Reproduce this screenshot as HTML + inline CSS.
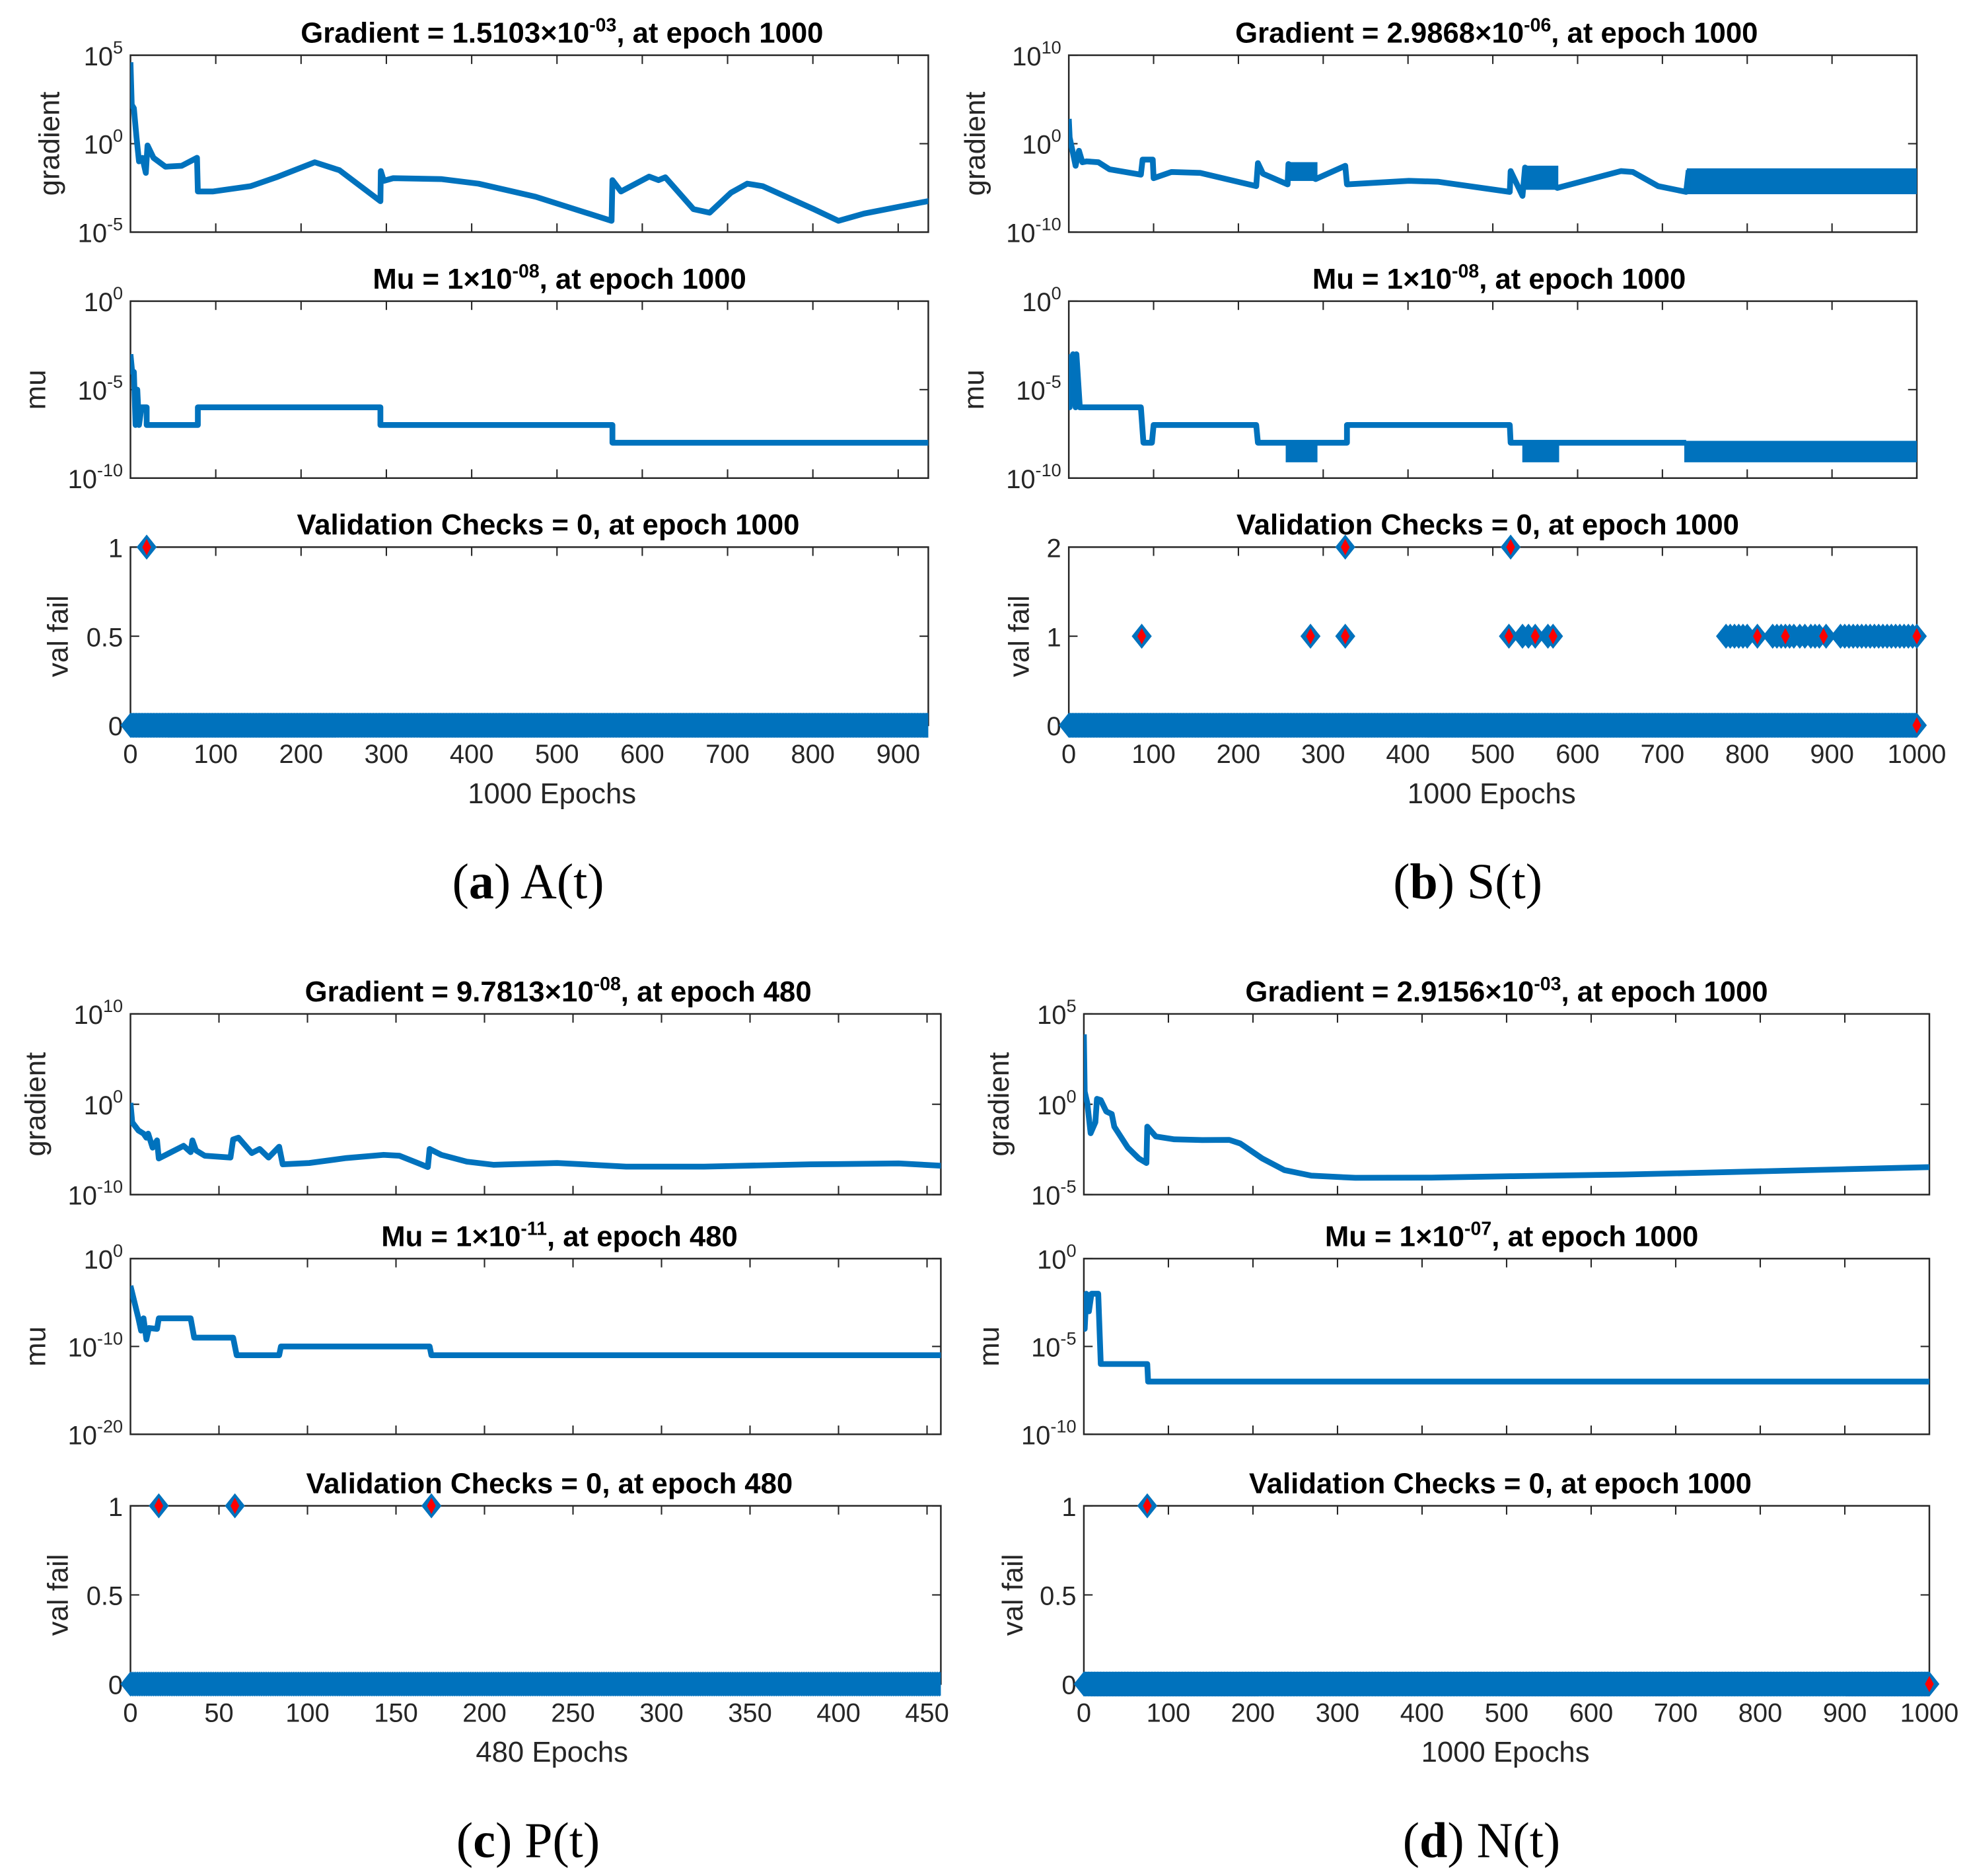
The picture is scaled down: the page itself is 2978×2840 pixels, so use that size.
<!DOCTYPE html>
<html>
<head>
<meta charset="utf-8">
<style>
html,body{margin:0;padding:0;background:#fff;}
svg{display:block;}
</style>
</head>
<body>
<svg id="fig" xmlns="http://www.w3.org/2000/svg" width="2978" height="2840" viewBox="0 0 1568 1495" preserveAspectRatio="none">
<rect x="0" y="0" width="1568" height="1495" fill="#fff"/>
</svg>
<script>
// ===== Data (epoch arrays + log10 value arrays) =====
const aGradEpochs = [0,1.5,4,7,10,14,18,20,27,41,60,78,79,97,141,171,216,245,293,293.5,297,308,364,408,475,564,565,575,608,619,627,660,679,704,723,741,801,830,860,940];
const aGradLog    = [4.6,2.2,2.0,0.4,-1.0,-0.8,-1.65,-0.1,-0.8,-1.3,-1.25,-0.8,-2.7,-2.7,-2.4,-1.9,-1.05,-1.5,-3.25,-1.55,-2.1,-1.95,-2.0,-2.26,-3.0,-4.36,-2.06,-2.7,-1.86,-2.06,-1.9,-3.7,-3.9,-2.77,-2.26,-2.4,-3.7,-4.36,-3.95,-3.2];
const aMuEpochs = [0,2,4,6,8,10,13,19,19,79,79,293,293,565,565,1000];
const aMuLog    = [-3,-4,-4,-7,-5,-7,-6,-6,-7,-7,-6,-6,-7,-7,-8,-8];
const aValOneEpochs = [19];
const aValTwoEpochs = [];
const aRedEpochs = [19];
const aTotalEpochs = 1000;

const bGradEpochs = [0,1,5,8,12,16,21,35,48,85,87,99,100,121,155,221,223,229,258,259,291,326,328,401,435,520,521,535,538,576,651,665,695,728,731];
const bGradLog    = [2.8,0.7,-1.1,-2.5,-0.8,-2.1,-2.0,-2.1,-2.9,-3.5,-1.8,-1.8,-3.9,-3.2,-3.3,-4.8,-2.2,-3.4,-4.6,-2.3,-4.0,-2.5,-4.6,-4.2,-4.3,-5.45,-3.1,-5.9,-2.7,-5.0,-3.1,-3.2,-4.8,-5.45,-3.0];
const bGradBandStart = [259,538,731];
const bGradBandEnd   = [291,575,1000];
const bGradBandHi    = [-2.3,-2.7,-3.0];
const bGradBandLo    = [-4.0,-5.0,-5.5];
const bMuEpochs = [0,1,5,8,9,13,85,88,98,100,221,223,258,291,328,328,520,521,728];
const bMuLog    = [-3,-6,-3,-6,-3,-6,-6,-8,-8,-7,-7,-8,-8,-8,-8,-7,-7,-8,-8];
const bMuBandStart = [258,537,728];
const bMuBandEnd   = [291,576,1000];
const bMuBandHi    = [-8,-8,-8];
const bMuBandLo    = [-9,-9,-9];
const bValOneEpochs = [86,285,326,519,535,542,550,565,571,775,780,785,790,795,800,812,830,835,840,845,850,855,862,868,875,880,885,893,910,915,920,925,930,935,940,945,950,955,960,965,970,975,980,985,990,995,1000];
const bValTwoEpochs = [326,521];
const bRedEpochs = [86,285,326,519,550,571,812,845,890,1000];
const bTotalEpochs = 1000;

const cGradEpochs = [0,1,4.5,7.4,9,10,12.5,15,16,22,30,34,35,37,42,56.5,58,61,68.5,73,78,84,86,101,122,143,152,168,169,175.6,190,205,241,280,324,384,434,458];
const cGradLog    = [0.15,-2.0,-2.9,-3.25,-3.7,-3.25,-4.8,-4.0,-6.0,-5.4,-4.6,-5.3,-4.0,-5.1,-5.7,-5.9,-3.9,-3.7,-5.4,-4.95,-5.9,-4.7,-6.65,-6.5,-5.95,-5.6,-5.7,-6.95,-4.95,-5.6,-6.35,-6.7,-6.5,-6.9,-6.9,-6.65,-6.55,-6.8];
const cMuEpochs = [0,4.5,6,7.4,9,10.4,15,16,34,36,58,60,84,85,169,170,480];
const cMuLog    = [-3.1,-6.8,-8.2,-6.8,-9.2,-7.9,-8.0,-6.8,-6.8,-9.0,-9.0,-11,-11,-10,-10,-11,-11];
const cValOneEpochs = [16,59,170];
const cValTwoEpochs = [];
const cRedEpochs = [16,59,170];
const cTotalEpochs = 480;

const dGradEpochs = [0,1,4,8,13.6,15.5,20,26.5,33,36,52,65,74,75,85,107,140,172,185,211,237,269,321,411,508,638,767,896,1000];
const dGradLog    = [3.87,0.7,0.08,-1.6,-1.0,0.3,0.23,-0.4,-0.54,-1.24,-2.4,-3.0,-3.25,-1.24,-1.78,-1.94,-1.98,-1.97,-2.17,-3.0,-3.64,-3.95,-4.07,-4.06,-3.98,-3.89,-3.75,-3.6,-3.48];
const dMuEpochs = [0,1,3,6,9,17,20,75,76,1000];
const dMuLog    = [-3,-4,-2,-3,-2,-2,-6,-6,-7,-7];
const dValOneEpochs = [75];
const dValTwoEpochs = [];
const dRedEpochs = [75];
const dTotalEpochs = 1000;

const xTicksK = [0,100,200,300,400,500,600,700,800,900,1000];
const xTicksA = [0,100,200,300,400,500,600,700,800,900];
const xTicksC = [0,50,100,150,200,250,300,350,400,450];

// ===== Drawing =====
const NS = 'http://www.w3.org/2000/svg';
const svg = document.getElementById('fig');
const BLUE = '#0072BD';
const AX = '#262626';
const FONT = '"Liberation Sans", Arial, sans-serif';
let clipId = 0;

function el(tag, attrs, parent) {
  const e = document.createElementNS(NS, tag);
  for (const k in attrs) e.setAttribute(k, attrs[k]);
  (parent || svg).appendChild(e);
  return e;
}

function supText(parent, x, y, base, exp, anchor, size) {
  const t = el('text', {x: x, y: y, 'text-anchor': anchor, 'font-family': FONT, 'font-size': size, fill: AX}, parent);
  const t1 = document.createElementNS(NS, 'tspan'); t1.textContent = base; t.appendChild(t1);
  const t2 = document.createElementNS(NS, 'tspan'); t2.setAttribute('dy', -size * 0.45); t2.setAttribute('font-size', size * 0.68); t2.textContent = exp; t.appendChild(t2);
  return t;
}

function titleText(parent, cx, y, pre, exp, post) {
  const t = el('text', {x: cx, y: y, 'text-anchor': 'middle', 'font-family': FONT, 'font-size': 23, 'font-weight': 'bold', fill: '#000'}, parent);
  const a = document.createElementNS(NS, 'tspan'); a.textContent = pre; t.appendChild(a);
  if (exp !== null) {
    const b = document.createElementNS(NS, 'tspan'); b.setAttribute('dy', -9); b.setAttribute('font-size', 15); b.textContent = exp; t.appendChild(b);
    const c = document.createElementNS(NS, 'tspan'); c.setAttribute('dy', 9); c.textContent = post; t.appendChild(c);
  }
  return t;
}

function drawBox(g, x0, x1, top, bot, xticks, xscale) {
  const box = el('rect', {x: x0, y: top, width: x1 - x0, height: bot - top, fill: 'none', stroke: AX, 'stroke-width': 1.3}, g);
  
  
  xticks.forEach(v => {
    const x = xscale(v);
    if (x > x0 + 1 && x < x1 - 1) {
      el('line', {x1: x, y1: bot, x2: x, y2: bot - 7, stroke: AX, 'stroke-width': 1.1}, g);
      el('line', {x1: x, y1: top, x2: x, y2: top + 7, stroke: AX, 'stroke-width': 1.1}, g);
    }
  });
}

function ytick(g, x0, x1, y) {
  el('line', {x1: x0, y1: y, x2: x0 + 7, y2: y, stroke: AX, 'stroke-width': 1.1}, g);
  el('line', {x1: x1, y1: y, x2: x1 - 7, y2: y, stroke: AX, 'stroke-width': 1.1}, g);
}

function ylabel(g, x, cy, text, name) {
  const t = el('text', {x: x, y: cy, transform: 'rotate(-90 ' + x + ' ' + cy + ')', 'text-anchor': 'middle', 'font-family': FONT, 'font-size': 23, fill: AX}, g);
  t.textContent = text;
  
  
}

function makeClip(x, y, w, h) {
  const id = 'clip' + (clipId++);
  const cp = el('clipPath', {id: id});
  el('rect', {x: x, y: y, width: w, height: h}, cp);
  return 'url(#' + id + ')';
}

function logPanel(g, P, row, epochs, logs, bands, titleParts, ylab, ylabX, name) {
  const xs = e => P.x0 + (e / P.xmax) * (P.x1 - P.x0);
  const ys = l => row.top + (row.hi - l) / (row.hi - row.lo) * (row.bot - row.top);
  const sub = el('g', {}, g);
  
  
  drawBox(sub, P.x0, P.x1, row.top, row.bot, P.xticks, xs);
  row.ticks.forEach(v => {
    ytick(sub, P.x0, P.x1, ys(v));
    const lbl = supText(sub, P.x0 - 6, ys(v) + 8, '10', String(v), 'end', 21);
    
    
  });
  const ttl = titleText(sub, titleParts[0], row.top - 10, titleParts[1], titleParts[2], titleParts[3]);
  
  
  ylabel(sub, ylabX, (row.top + row.bot) / 2, ylab, name + '-y-label');
  const clip = makeClip(P.x0, row.top - 3, P.x1 - P.x0, row.bot - row.top + 6);
  const lg = el('g', {'clip-path': clip}, sub);
  let d = '';
  epochs.forEach((e, i) => { d += (i ? 'L' : 'M') + xs(e).toFixed(2) + ' ' + ys(logs[i]).toFixed(2); });
  const path = el('path', {d: d, fill: 'none', stroke: BLUE, 'stroke-width': 4.6, 'stroke-linejoin': 'round'}, lg);
  
  
  if (bands) {
    bands.start.forEach((s, i) => {
      const r = el('rect', {x: xs(s), y: ys(bands.hi[i]), width: xs(bands.end[i]) - xs(s), height: ys(bands.lo[i]) - ys(bands.hi[i]), fill: BLUE, stroke: BLUE, 'stroke-width': 3}, lg);
      
      
    });
  }
}

function valPanel(g, P, row, ones, twos, reds, total, ttlParts, ylabX) {
  const xs = e => P.x0 + (e / P.xmax) * (P.x1 - P.x0);
  const ys = v => row.bot - (v / row.max) * (row.bot - row.top);
  const sub = el('g', {}, g);
  
  
  drawBox(sub, P.x0, P.x1, row.top, row.bot, P.xticks, xs);
  row.ticks.forEach(v => {
    ytick(sub, P.x0, P.x1, ys(v));
    const t = el('text', {x: P.x0 - 6, y: ys(v) + 8, 'text-anchor': 'end', 'font-family': FONT, 'font-size': 21, fill: AX}, sub);
    t.textContent = String(v);
    
    
  });
  const ttl = titleText(sub, ttlParts[0], row.top - 10, ttlParts[1], null, null);
  
  
  ylabel(sub, ylabX, (row.top + row.bot) / 2, 'val fail', 'val-fail-y-label');
  P.xticks.forEach(v => {
    const t = el('text', {x: xs(v), y: row.bot + 30, 'text-anchor': 'middle', 'font-family': FONT, 'font-size': 21, fill: AX}, sub);
    t.textContent = String(v);
    
    
  });
  const xl = el('text', {x: P.xlabelX, y: row.bot + 62, 'text-anchor': 'middle', 'font-family': FONT, 'font-size': 23, fill: AX}, sub);
  xl.textContent = total + ' Epochs';
  
  
  const clip = makeClip(P.x0 - 12, row.top - 14, P.x1 - P.x0 + 24 - P.clipRightTrim, row.bot - row.top + 28);
  const mg = el('g', {'clip-path': clip}, sub);
  const hw = 8, hh = 10, rw = 3.5, rh = 6.5;
  const dia = (x, y, w, h) => 'M' + (x - w).toFixed(2) + ' ' + y + 'L' + x.toFixed(2) + ' ' + (y - h) + 'L' + (x + w).toFixed(2) + ' ' + y + 'L' + x.toFixed(2) + ' ' + (y + h) + 'Z';
  let d0 = '';
  for (let e = 0; e <= total; e++) d0 += dia(xs(e), ys(0), hw, hh);
  const zero = el('path', {d: d0, fill: BLUE}, mg);
  
  
  let d1 = '', dr = '';
  ones.forEach(e => { d1 += dia(xs(e), ys(1), hw, hh); });
  twos.forEach(e => { d1 += dia(xs(e), ys(2), hw, hh); dr += dia(xs(e), ys(2), rw, rh); });
  reds.forEach(e => { dr += dia(xs(e), ys(1), rw, rh); });
  dr += dia(xs(total), ys(0), rw, rh);
  const m1 = el('path', {d: d1, fill: BLUE}, mg);
  
  
  const mr = el('path', {d: dr, fill: '#FF0000'}, mg);
  
  
}

function caption(x, y, letter, rest, name) {
  const t = el('text', {x: x, y: y, 'text-anchor': 'middle', 'font-family': '"Liberation Serif", "Times New Roman", serif', 'font-size': 40, fill: '#000'});
  const a = document.createElementNS(NS, 'tspan'); a.textContent = '('; t.appendChild(a);
  const b = document.createElementNS(NS, 'tspan'); b.setAttribute('font-weight', 'bold'); b.textContent = letter; t.appendChild(b);
  const c = document.createElementNS(NS, 'tspan'); c.textContent = ') ' + rest; t.appendChild(c);
  
  
}

// ---- Panel A ----
const gA = el('g', {});


const PA = {x0: 104, x1: 740, xmax: 935.3, xticks: xTicksA, xlabelX: 440, clipRightTrim: 12};
logPanel(gA, PA, {top: 44, bot: 185, hi: 5, lo: -5, ticks: [5, 0, -5]}, aGradEpochs, aGradLog, null, [448, 'Gradient = 1.5103×10', '-03', ', at epoch 1000'], 'gradient', 47, 'gradient-plot');
logPanel(gA, PA, {top: 240, bot: 381, hi: 0, lo: -10, ticks: [0, -5, -10]}, aMuEpochs, aMuLog, null, [446, 'Mu = 1×10', '-08', ', at epoch 1000'], 'mu', 36, 'mu-plot');
valPanel(gA, PA, {top: 436, bot: 578, max: 1, ticks: [1, 0.5, 0]}, aValOneEpochs, aValTwoEpochs, aRedEpochs, aTotalEpochs, [437, 'Validation Checks = 0, at epoch 1000'], 54);
caption(421, 716, 'a', 'A(t)', 'caption-a');

// ---- Panel B ----
const gB = el('g', {});


const PB = {x0: 852, x1: 1528, xmax: 1000, xticks: xTicksK, xlabelX: 1189, clipRightTrim: 0};
logPanel(gB, PB, {top: 44, bot: 185, hi: 10, lo: -10, ticks: [10, 0, -10]}, bGradEpochs, bGradLog, {start: bGradBandStart, end: bGradBandEnd, hi: bGradBandHi, lo: bGradBandLo}, [1193, 'Gradient = 2.9868×10', '-06', ', at epoch 1000'], 'gradient', 785, 'gradient-plot');
logPanel(gB, PB, {top: 240, bot: 381, hi: 0, lo: -10, ticks: [0, -5, -10]}, bMuEpochs, bMuLog, {start: bMuBandStart, end: bMuBandEnd, hi: bMuBandHi, lo: bMuBandLo}, [1195, 'Mu = 1×10', '-08', ', at epoch 1000'], 'mu', 784, 'mu-plot');
valPanel(gB, PB, {top: 436, bot: 578, max: 2, ticks: [2, 1, 0]}, bValOneEpochs, bValTwoEpochs, bRedEpochs, bTotalEpochs, [1186, 'Validation Checks = 0, at epoch 1000'], 820);
caption(1170, 716, 'b', 'S(t)', 'caption-b');

// ---- Panel C ----
const gC = el('g', {});


const PC = {x0: 104, x1: 750, xmax: 457.8, xticks: xTicksC, xlabelX: 440, clipRightTrim: 12};
logPanel(gC, PC, {top: 808, bot: 952, hi: 10, lo: -10, ticks: [10, 0, -10]}, cGradEpochs, cGradLog, null, [445, 'Gradient = 9.7813×10', '-08', ', at epoch 480'], 'gradient', 36, 'gradient-plot');
logPanel(gC, PC, {top: 1003, bot: 1143, hi: 0, lo: -20, ticks: [0, -10, -20]}, cMuEpochs, cMuLog, null, [446, 'Mu = 1×10', '-11', ', at epoch 480'], 'mu', 36, 'mu-plot');
valPanel(gC, PC, {top: 1200, bot: 1342, max: 1, ticks: [1, 0.5, 0]}, cValOneEpochs, cValTwoEpochs, cRedEpochs, cTotalEpochs, [438, 'Validation Checks = 0, at epoch 480'], 54);
caption(421, 1480, 'c', 'P(t)', 'caption-c');

// ---- Panel D ----
const gD = el('g', {});


const PD = {x0: 864, x1: 1538, xmax: 1000, xticks: xTicksK, xlabelX: 1200, clipRightTrim: 0};
logPanel(gD, PD, {top: 808, bot: 952, hi: 5, lo: -5, ticks: [5, 0, -5]}, dGradEpochs, dGradLog, null, [1201, 'Gradient = 2.9156×10', '-03', ', at epoch 1000'], 'gradient', 804, 'gradient-plot');
logPanel(gD, PD, {top: 1003, bot: 1143, hi: 0, lo: -10, ticks: [0, -5, -10]}, dMuEpochs, dMuLog, null, [1205, 'Mu = 1×10', '-07', ', at epoch 1000'], 'mu', 796, 'mu-plot');
valPanel(gD, PD, {top: 1200, bot: 1342, max: 1, ticks: [1, 0.5, 0]}, dValOneEpochs, dValTwoEpochs, dRedEpochs, dTotalEpochs, [1196, 'Validation Checks = 0, at epoch 1000'], 815);
caption(1181, 1480, 'd', 'N(t)', 'caption-d');
</script>
</body>
</html>
